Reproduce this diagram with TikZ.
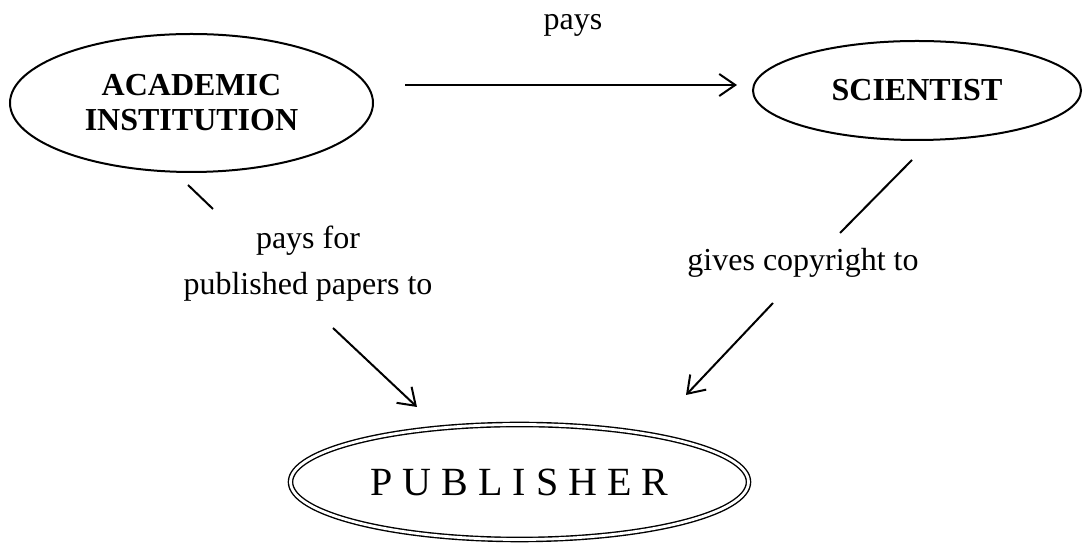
\documentclass[tikz,border=0pt]{standalone}
\usepackage{fontspec}
\setmainfont{Liberation Serif}
\usetikzlibrary{positioning}
\usetikzlibrary{shapes.geometric}
\usetikzlibrary{arrows.meta}
\tikzset{
  party/.style={ellipse, draw=black, line width=1pt, inner sep=0pt, align=center, font=\fontsize{16}{17.5}\selectfont\bfseries},
  rel/.style={align=center, font=\fontsize{16}{23}\selectfont},
  link/.style={line width=1pt, color=black},
  tip/.style={-{Straight Barb[length=8pt,width=11pt,line width=1pt]}}
}

\begin{document}
\begin{tikzpicture}[scale=0.5]
\useasboundingbox (0pt, 0pt) rectangle (1083pt, -544pt);
\node (acad) [party, minimum width=181.5pt, minimum height=69pt] at (191.5pt, -103pt) {ACADEMIC\\INSTITUTION};
\node (sci) [party, minimum width=164pt, minimum height=49.5pt] at (917pt, -90.5pt) {SCIENTIST};
\node (pub) [ellipse, draw=black, line width=0.7pt, double, double distance=1.4pt, inner sep=0pt, minimum width=229pt, minimum height=57.5pt, font=\fontsize{20}{22}\selectfont] at (519.5pt, -482pt) {P U B L I S H E R};
\node (pays) [rel] at (573pt, -25pt) {pays};
\node (paysfor) [rel] at (308pt, -264pt) {pays for\\published papers to};
\node (gives) [rel] at (803pt, -263pt) {gives copyright to};
\coordinate (a1) at (188pt, -185pt);
\coordinate (a2) at (213pt, -209pt);
\coordinate (a3) at (333pt, -328pt);
\coordinate (a4) at (417pt, -407pt);
\coordinate (s1) at (912pt, -160pt);
\coordinate (s2) at (840pt, -233pt);
\coordinate (s3) at (773pt, -303pt);
\coordinate (s4) at (686pt, -395pt);
\coordinate (p1) at (405pt, -85pt);
\coordinate (p2) at (737pt, -85pt);
\draw [link, tip] (p1) to (p2);
\draw [link] (a1) to (a2);
\draw [link, tip] (a3) to (a4);
\draw [link] (s1) to (s2);
\draw [link, tip] (s3) to (s4);
\end{tikzpicture}
\end{document}
